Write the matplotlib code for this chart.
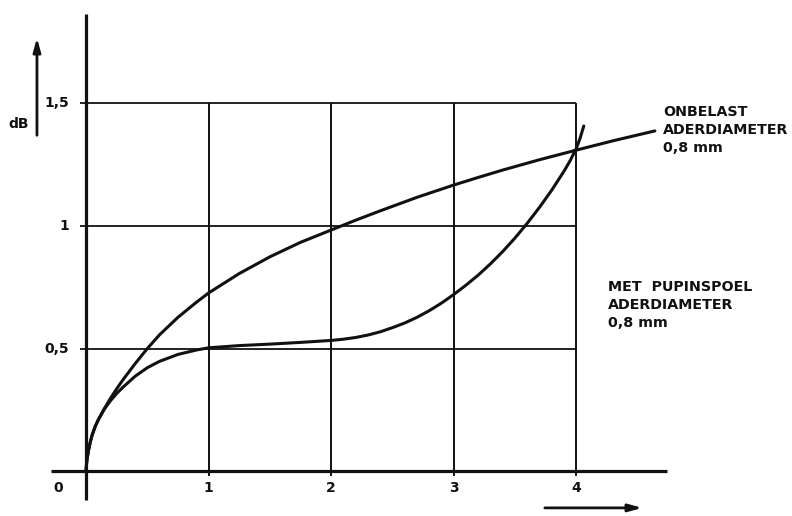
import matplotlib
matplotlib.use("Agg")
import matplotlib.pyplot as plt

# ---- data ----
x_ticks = [1, 2, 3, 4]
x_tick_labels = ["1", "2", "3", "4"]
y_ticks = [0.5, 1.0, 1.5]
y_tick_labels = ["0,5", "1", "1,5"]

onbelast_x = [0, 0.005, 0.01, 0.02, 0.035, 0.05, 0.075, 0.1, 0.15, 0.2, 0.25, 0.3, 0.4, 0.5, 0.6,
              0.75, 0.9, 1.0, 1.25, 1.5, 1.75, 2.0, 2.2, 2.4, 2.7, 3.0, 3.2, 3.4, 3.7, 4.0, 4.3, 4.64]
onbelast_y = [0, 0.035, 0.055, 0.085, 0.12, 0.148, 0.183, 0.21, 0.256, 0.298, 0.336, 0.372, 0.438, 0.50, 0.556,
              0.627, 0.688, 0.726, 0.805, 0.873, 0.932, 0.982, 1.022, 1.06, 1.115, 1.165, 1.196, 1.226, 1.268, 1.307, 1.345, 1.385]

pupin_x = [0, 0.005, 0.01, 0.02, 0.035, 0.05, 0.075, 0.1, 0.15, 0.2, 0.25, 0.3, 0.4, 0.5, 0.6, 0.75, 0.9, 1.0,
           1.25, 1.5, 1.75, 2.0, 2.1, 2.2, 2.3, 2.4, 2.5, 2.6, 2.7, 2.8, 2.9, 3.0, 3.1, 3.2, 3.3, 3.4,
           3.5, 3.6, 3.7, 3.8, 3.9, 3.95, 4.0, 4.03, 4.06]
pupin_y = [0, 0.035, 0.055, 0.085, 0.12, 0.148, 0.183, 0.21, 0.254, 0.288, 0.317, 0.342, 0.387, 0.422, 0.448, 0.476, 0.494, 0.503,
           0.512, 0.518, 0.525, 0.533, 0.538, 0.545, 0.555, 0.568, 0.585, 0.604, 0.627, 0.654, 0.685, 0.72, 0.758, 0.799, 0.845, 0.895,
           0.95, 1.01, 1.075, 1.145, 1.222, 1.265, 1.315, 1.355, 1.405]

label_onbelast = "ONBELAST\nADERDIAMETER\n0,8 mm"
label_pupin = "MET  PUPINSPOEL\nADERDIAMETER\n0,8 mm"
y_unit = "dB"
origin_label = "0"

# ---- figure ----
fig = plt.figure(figsize=(7.92, 5.16), dpi=100)
ax = fig.add_axes([0, 0, 1, 1])
ax.set_xlim(-0.7015, 5.7586)
ax.set_ylim(-0.181, 1.9174)
ax.axis("off")

ink = "#111111"
font = dict(family="DejaVu Sans", weight="bold", color=ink)

# grid
for xv in x_ticks:
    ax.plot([xv, xv], [-0.02, y_ticks[-1]], color=ink, lw=1.4, solid_capstyle="butt")
for yv in y_ticks:
    ax.plot([-0.05, x_ticks[-1]], [yv, yv], color=ink, lw=1.3, solid_capstyle="butt")

# axes
ax.plot([0, 0], [-0.116, 1.86], color=ink, lw=2.3, solid_capstyle="butt")
ax.plot([-0.285, 4.74], [0, 0], color=ink, lw=2.3, solid_capstyle="butt")

# curves
ax.plot(onbelast_x, onbelast_y, color=ink, lw=2.2, solid_capstyle="round", solid_joinstyle="round")
ax.plot(pupin_x, pupin_y, color=ink, lw=2.2, solid_capstyle="round", solid_joinstyle="round")

# tick labels
for xv, lab in zip(x_ticks, x_tick_labels):
    ax.text(xv, -0.068, lab, ha="center", va="center", fontsize=10, **font)
for yv, lab in zip(y_ticks, y_tick_labels):
    ax.text(-0.14, yv, lab, ha="right", va="center", fontsize=10, **font)
ax.text(-0.23, -0.068, origin_label, ha="center", va="center", fontsize=10, **font)

# unit and arrows
ax.text(-0.546, 1.413, y_unit, ha="center", va="center", fontsize=10, **font)
ax.annotate("", xy=(-0.40, 1.775), xytext=(-0.40, 1.356),
            arrowprops=dict(arrowstyle="-|>,head_length=0.8,head_width=0.22", color=ink, lw=2.0))
ax.annotate("", xy=(4.56, -0.148), xytext=(3.72, -0.148),
            arrowprops=dict(arrowstyle="-|>,head_length=0.8,head_width=0.22", color=ink, lw=2.0))

# curve labels
ax.text((663 - 86) / 122.6, (471.5 - 105) / 245.9, label_onbelast, ha="left", va="top",
        fontsize=10.3, linespacing=1.35, **font)
ax.text((608 - 86) / 122.6, (471.5 - 280) / 245.9, label_pupin, ha="left", va="top",
        fontsize=10.3, linespacing=1.35, **font)

fig.savefig("out.png", dpi=100, facecolor="white")
